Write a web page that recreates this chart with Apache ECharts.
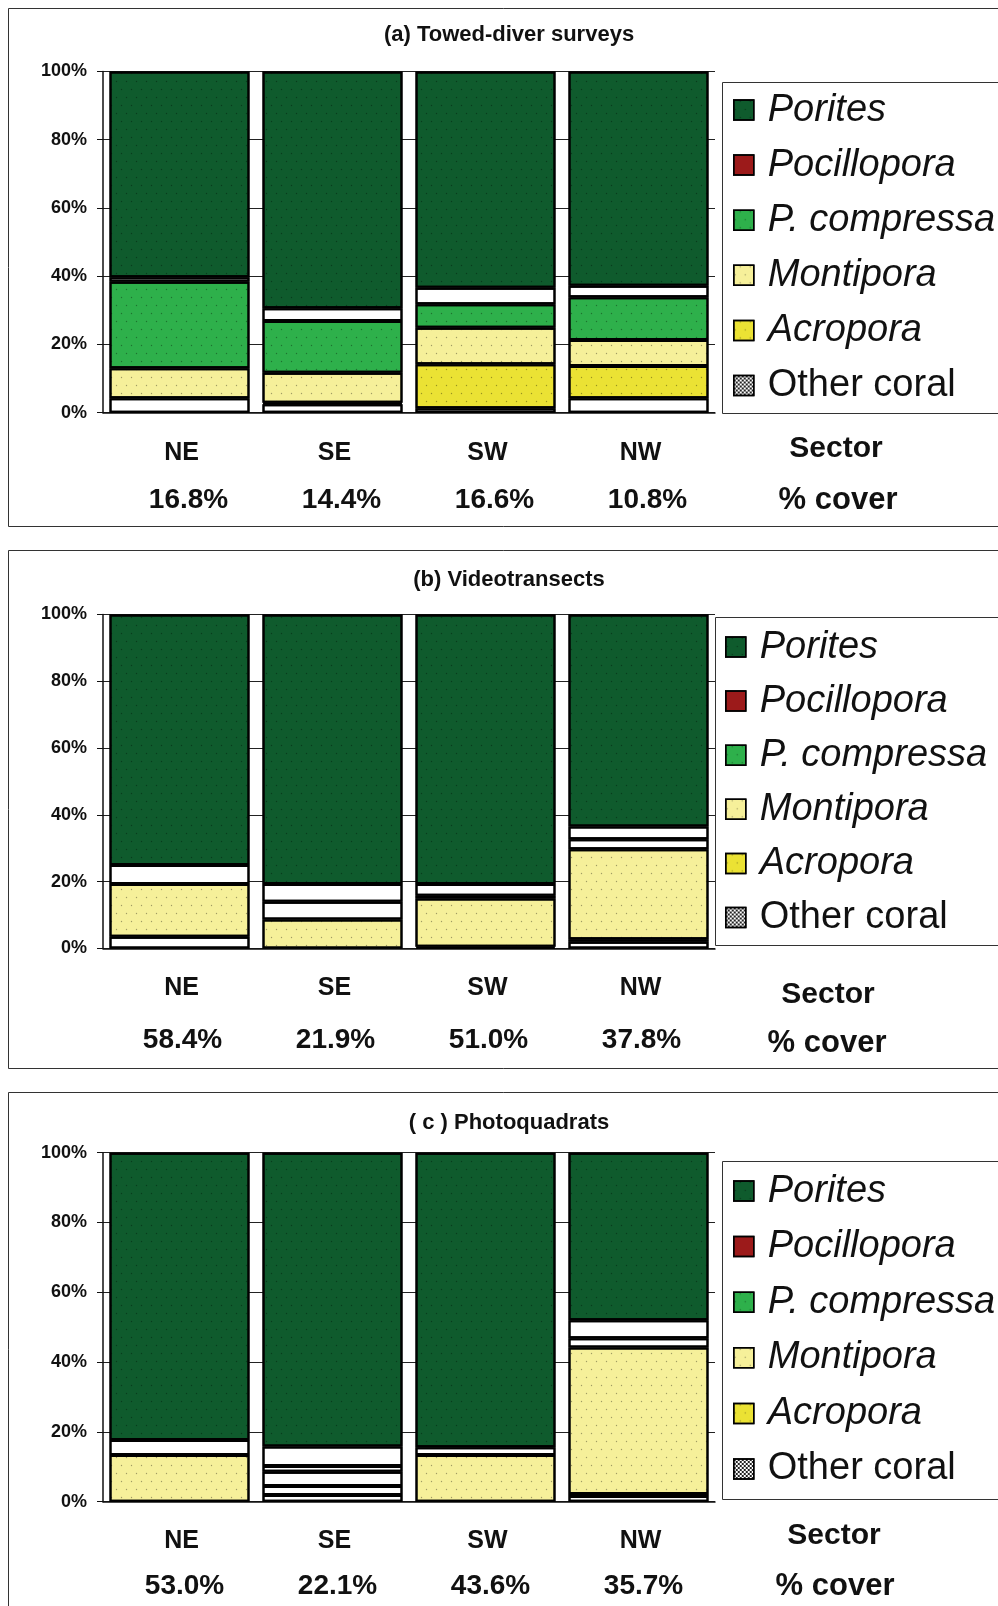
<!DOCTYPE html>
<html>
<head>
<meta charset="utf-8">
<script src="https://cdn.jsdelivr.net/npm/echarts@6/dist/echarts.min.js"></script>
<style>
  html, body { margin: 0; padding: 0; background: #fff; }
  #chart { width: 998px; height: 1606px; }
</style>
</head>
<body>
<div id="chart"></div>
<script>
// categories and labels
var sectors = ['NE', 'SE', 'SW', 'NW'];
var coverTowed = ['16.8%', '14.4%', '16.6%', '10.8%'];
var coverVideo = ['58.4%', '21.9%', '51.0%', '37.8%'];
var coverPhoto = ['53.0%', '22.1%', '43.6%', '35.7%'];

// (a) towed-diver surveys, % of coral cover, stacked bottom to top
var towedOther = [4.2, 2.5, 1.3, 4.2];
var towedAcropora = [0, 0.4, 12.9, 9.5];
var towedMontipora = [8.8, 8.8, 10.7, 7.6];
var towedCompressa = [25.4, 15.2, 6.9, 12.5];
var towedPocillopora = [1.3, 3.7, 4.8, 3.4];
var towedPorites = [60.3, 69.4, 63.4, 62.8];

// (b) videotransects
var videoOther = [3.5, 0, 0.5, 2.0];
var videoAcropora = [0, 0, 0, 0.8];
var videoMontipora = [15.8, 8.7, 14.5, 26.9];
var videoCompressa = [0, 5.3, 0.8, 3.0];
var videoPocillopora = [5.7, 5.3, 3.5, 3.8];
var videoPorites = [75.0, 80.7, 80.7, 63.5];

// (c) photoquadrats
var photoOther = [0, 1.9, 0, 1.6];
var photoAcropora = [0, 2.6, 0, 0.6];
var photoMontipora = [13.4, 4.1, 13.4, 42.0];
var photoCompressa = [0, 1.6, 0, 2.6];
var photoPocillopora = [4.3, 5.6, 2.2, 5.2];
var photoPorites = [82.3, 84.2, 84.4, 48.0];

var names = ['Other coral', 'Acropora', 'Montipora', 'P. compressa', 'Pocillopora', 'Porites'];

var panels = [
  { title: '(a) Towed-diver surveys', cover: coverTowed,
    values: [towedOther, towedAcropora, towedMontipora, towedCompressa, towedPocillopora, towedPorites],
    hollow: {},
    grid: { top: 71.4, height: 341.3 }, titleY: 35, lh: 47, margin: 17, shift: [4, 18],
    legend: { left: 728, top: 85, gap: 15.1, box: [722, 82, 330, 331] },
    sector: [836, 449], coverPos: [838, 500], frame: [8, 8, 1000, 518] },
  { title: '(b) Videotransects', cover: coverVideo,
    values: [videoOther, videoAcropora, videoMontipora, videoCompressa, videoPocillopora, videoPorites],
    hollow: { 'P. compressa': [0, 1, 2, 3] },
    grid: { top: 614.5, height: 334 }, titleY: 580, lh: 52, margin: 14, shift: [4, 6],
    legend: { left: 720, top: 622, gap: 14.1, box: [715, 617, 330, 328] },
    sector: [828, 995], coverPos: [827, 1043], frame: [8, 550, 1000, 518] },
  { title: '( c ) Photoquadrats', cover: coverPhoto,
    values: [photoOther, photoAcropora, photoMontipora, photoCompressa, photoPocillopora, photoPorites],
    hollow: { 'P. compressa': [0, 1, 2, 3], 'Acropora': [1], 'Montipora': [1] },
    grid: { top: 1152.7, height: 349 }, titleY: 1123, lh: 45, margin: 17, shift: [4, 10],
    legend: { left: 728, top: 1166, gap: 15.6, box: [722, 1161, 330, 338] },
    sector: [834, 1536], coverPos: [835, 1586], frame: [8, 1092, 1000, 600] }
];

var fills = {
  'Other coral': '#ffffff',
  'Acropora': '#ebe234',
  'Montipora': '#f6f09a',
  'P. compressa': '#2eb04b',
  'Pocillopora': '#ffffff',
  'Porites': '#0f5b2d'
};

// checker pattern for the "Other coral" legend key
var checker = document.createElement('canvas');
checker.width = 4; checker.height = 4;
var cx = checker.getContext('2d');
cx.fillStyle = '#fff'; cx.fillRect(0, 0, 4, 4);
cx.fillStyle = '#222'; cx.fillRect(0, 0, 2, 2); cx.fillRect(2, 2, 2, 2);

var legendKeys = {
  'Porites': '#0f5b2d',
  'Pocillopora': '#9c1a1a',
  'P. compressa': '#2eb04b',
  'Montipora': '#f6f09a',
  'Acropora': '#ebe234',
  'Other coral': { image: checker, repeat: 'repeat' }
};

var dots = {
  symbol: 'circle',
  symbolSize: 0.45,
  color: 'rgba(0,0,0,0.35)',
  dashArrayX: [[3, 7], [0, 5, 3, 2]],
  dashArrayY: [3, 5]
};
var noDots = { symbol: 'rect', color: 'rgba(0,0,0,0)' };

var font = 'Liberation Sans, Arial, sans-serif';
var grids = [], xAxes = [], yAxes = [], series = [], legends = [], graphics = [];

panels.forEach(function (p, k) {
  graphics.push({
    type: 'rect', silent: true, z: -10,
    shape: { x: p.frame[0] + 0.5, y: p.frame[1] + 0.5, width: p.frame[2], height: p.frame[3] },
    style: { fill: '#fff', stroke: '#333', lineWidth: 1 }
  });
  graphics.push({
    type: 'text', x: 509, y: p.titleY,
    style: { text: p.title, font: 'bold 22px ' + font, fill: '#111', align: 'center', verticalAlign: 'middle' }
  });
  graphics.push({
    type: 'rect', silent: true, z: -5,
    shape: { x: p.legend.box[0] + 0.5, y: p.legend.box[1] + 0.5, width: p.legend.box[2], height: p.legend.box[3] },
    style: { fill: '#fff', stroke: '#333', lineWidth: 1 }
  });
  graphics.push({
    type: 'text', x: p.sector[0], y: p.sector[1],
    style: { text: 'Sector', font: 'bold 30px ' + font, fill: '#111', align: 'center', verticalAlign: 'middle' }
  });
  graphics.push({
    type: 'text', x: p.coverPos[0], y: p.coverPos[1],
    style: { text: '% cover', font: 'bold 31px ' + font, fill: '#111', align: 'center', verticalAlign: 'middle' }
  });

  grids.push({ left: 103, width: 612, top: p.grid.top, height: p.grid.height });

  xAxes.push({
    type: 'category', gridIndex: k, data: sectors,
    axisLine: { lineStyle: { color: '#111', width: 1.5 } },
    axisTick: { length: 7, lineStyle: { color: '#111' } },
    axisLabel: {
      margin: p.margin, interval: 0,
      formatter: function (v, i) { return '{s|' + v + '}\n{p|' + p.cover[i] + '}'; },
      rich: {
        s: { fontFamily: font, fontWeight: 'bold', fontSize: 25, color: '#111', lineHeight: p.lh, padding: [0, 0, 0, p.shift[0]] },
        p: { fontFamily: font, fontWeight: 'bold', fontSize: 28, color: '#111', lineHeight: p.lh, padding: [0, 0, 0, p.shift[1]] }
      }
    }
  });

  yAxes.push({
    type: 'value', gridIndex: k, min: 0, max: 100, interval: 20,
    axisLine: { show: true, lineStyle: { color: '#111', width: 1.5 } },
    axisTick: { show: true, length: 6, lineStyle: { color: '#111' } },
    axisLabel: { formatter: '{value}%', margin: 16, fontFamily: font, fontWeight: 'bold', fontSize: 18, color: '#111' },
    splitLine: { show: true, lineStyle: { color: '#222', width: 1 } }
  });

  names.forEach(function (name, s) {
    var holes = p.hollow[name] || [];
    var white = fills[name] === '#ffffff';
    series.push({
      name: name, type: 'bar', stack: 'panel' + k,
      xAxisIndex: k, yAxisIndex: k,
      barCategoryGap: '8.5%',
      itemStyle: { color: fills[name], borderColor: '#000', borderWidth: 2, decal: white ? noDots : dots },
      emphasis: { disabled: true },
      data: p.values[s].map(function (v, i) {
        if (!v) return '-';
        if (holes.indexOf(i) >= 0) return { value: v, itemStyle: { color: '#ffffff', decal: noDots } };
        return v;
      })
    });
  });

  legends.push({
    left: p.legend.left, top: p.legend.top, orient: 'vertical',
    itemWidth: 20, itemHeight: 20, itemGap: p.legend.gap,
    selectedMode: false,
    itemStyle: { borderColor: '#000', borderWidth: 1.5 },
    textStyle: { fontFamily: font, fontSize: 38, fontStyle: 'italic', color: '#111', lineHeight: 40, padding: [0, 0, 0, 9] },
    data: ['Porites', 'Pocillopora', 'P. compressa', 'Montipora', 'Acropora', 'Other coral'].map(function (n) {
      var d = { name: n, icon: 'rect', itemStyle: { color: legendKeys[n] } };
      if (n === 'Other coral') d.textStyle = { fontStyle: 'normal' };
      return d;
    })
  });
});

var chart = echarts.init(document.getElementById('chart'), null, { renderer: 'canvas' });
chart.setOption({
  backgroundColor: '#fff',
  animation: false,
  grid: grids,
  xAxis: xAxes,
  yAxis: yAxes,
  legend: legends,
  graphic: graphics,
  series: series
});
</script>
</body>
</html>
